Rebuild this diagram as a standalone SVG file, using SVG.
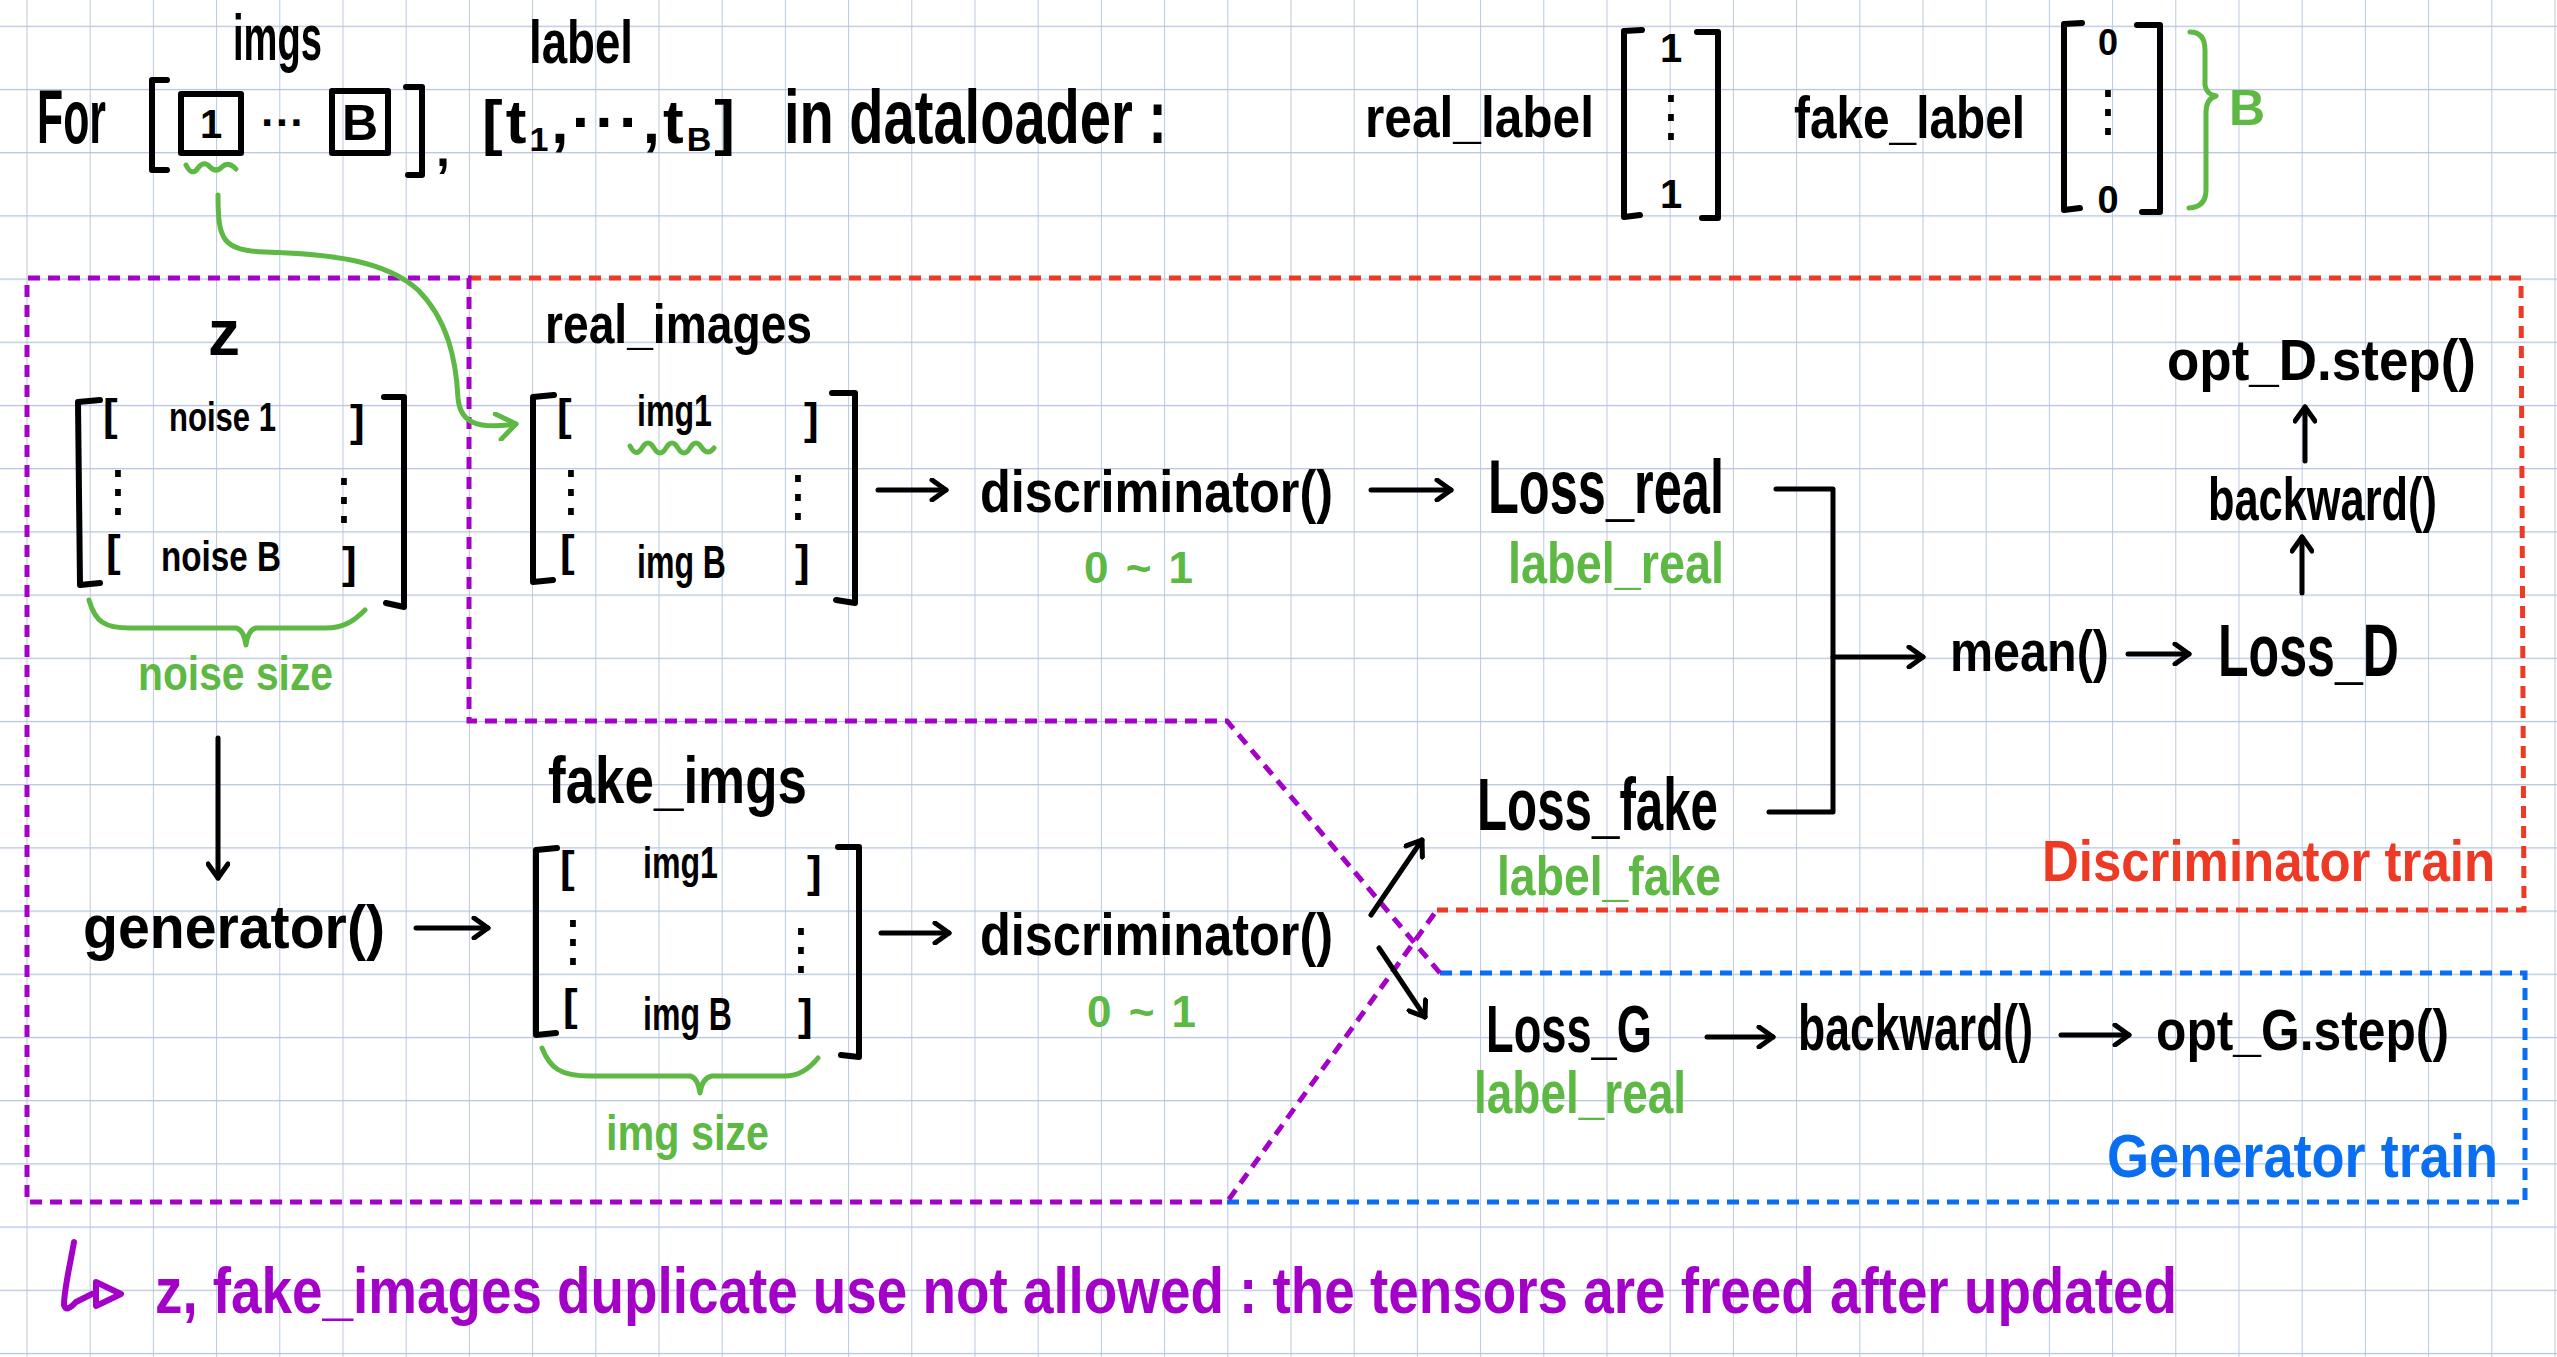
<svg xmlns="http://www.w3.org/2000/svg" width="2557" height="1357" viewBox="0 0 2557 1357">
<defs>
<pattern id="grid" x="26.5" y="25.7" width="63.2" height="63.2" patternUnits="userSpaceOnUse">
<path d="M0,0 H63.2" stroke="#b3c3dd" stroke-width="2.6" fill="none"/>
<path d="M0,0 V63.2" stroke="#b3c3dd" stroke-width="1.8" fill="none"/>
</pattern>
<marker id="ah" viewBox="0 0 24 24" refX="20" refY="12" markerWidth="24" markerHeight="24" markerUnits="userSpaceOnUse" orient="auto">
<path d="M6,2 L20,12 L6,22" fill="none" stroke="#000" stroke-width="5" stroke-linecap="round" stroke-linejoin="round"/>
</marker>
<marker id="ahg" viewBox="0 0 30 30" refX="25" refY="15" markerWidth="30" markerHeight="30" markerUnits="userSpaceOnUse" orient="auto">
<path d="M6,2 L25,15 L8,28" fill="none" stroke="#5db844" stroke-width="5" stroke-linecap="round" stroke-linejoin="round"/>
</marker>
</defs>
<style>
text{font-family:"Liberation Sans Narrow","Liberation Sans",Arial,sans-serif;font-weight:700;fill:#000}
.g{fill:#5db844}
.r{fill:#ee3a24}
.b{fill:#0a6ef0}
.p{fill:#a300c8}
.dots{font-family:"DejaVu Sans",sans-serif;font-weight:400}
.ln{fill:none;stroke:#000;stroke-width:5;stroke-linecap:round;stroke-linejoin:round}
.br{fill:none;stroke:#000;stroke-width:6;stroke-linecap:round;stroke-linejoin:round}
.gl{fill:none;stroke:#5db844;stroke-width:5;stroke-linecap:round;stroke-linejoin:round}
.dash{fill:none;stroke-width:5;stroke-dasharray:12 8}
</style>
<rect width="2557" height="1357" fill="#ffffff"/>
<rect width="2557" height="1357" fill="url(#grid)"/>

<g id="regions">
<path class="dash" stroke="#ee3a24" d="M469,278 L2521,278 L2524,910 L1437,910"/>
<path class="dash" stroke="#0a6ef0" d="M1440,973 L2525,973 L2525,1202 L1227,1202"/>
<path class="dash" stroke="#a300c8" d="M1440,973 L1227,721 L469,721 L469,278 L27,278 L27,1202 L1227,1202 L1437,910"/>
</g>

<g id="header">
<text x="37" y="143" font-size="76" textLength="69" lengthAdjust="spacingAndGlyphs">For</text>
<text x="233" y="60" font-size="64" textLength="89" lengthAdjust="spacingAndGlyphs">imgs</text>
<text x="529" y="63" font-size="62" textLength="104" lengthAdjust="spacingAndGlyphs">label</text>
<path class="br" d="M167,80 L152,80 L152,170 L167,170"/>
<rect x="181" y="94" width="60" height="59" class="br"/>
<text x="211" y="138" font-size="40" text-anchor="middle">1</text>
<text x="283" y="138" font-size="44" text-anchor="middle">···</text>
<rect x="332" y="91" width="56" height="62" class="br"/>
<text x="360" y="140" font-size="50" text-anchor="middle">B</text>
<path class="br" d="M406,87 L422,87 L422,175 L408,175"/>
<text x="436" y="166" font-size="50">,</text>
<path class="gl" d="M186,165 q6,12 12,3 q6,-8 12,-1 q6,6 12,0 q6,-6 14,2"/>
<text x="482" y="143" font-size="62" textLength="253" lengthAdjust="spacing">[t<tspan font-size="34" dy="8">1</tspan><tspan dy="-8">,···,t</tspan><tspan font-size="34" dy="8">B</tspan><tspan dy="-8">]</tspan></text>
<text x="784" y="143" font-size="76" textLength="383" lengthAdjust="spacingAndGlyphs">in dataloader :</text>
</g>

<g id="real_label">
<text x="1365" y="137" font-size="58" textLength="229" lengthAdjust="spacingAndGlyphs">real_label</text>
<path class="br" d="M1642,30 L1624,31 L1624,217 L1640,215"/>
<path class="br" d="M1697,32 L1718,32 L1718,218 L1702,218"/>
<text x="1671" y="62" font-size="40" text-anchor="middle">1</text>
<text class="dots" x="1671" y="135" font-size="56" text-anchor="middle">⋮</text>
<text x="1671" y="208" font-size="40" text-anchor="middle">1</text>
</g>

<g id="fake_label">
<text x="1794" y="138" font-size="60" textLength="231" lengthAdjust="spacingAndGlyphs">fake_label</text>
<path class="br" d="M2082,23 L2064,24 L2064,210 L2080,208"/>
<path class="br" d="M2137,25 L2160,25 L2160,212 L2142,212"/>
<text x="2108" y="55" font-size="36" text-anchor="middle">0</text>
<text class="dots" x="2108" y="130" font-size="56" text-anchor="middle">⋮</text>
<text x="2108" y="213" font-size="38" text-anchor="middle">0</text>
<path class="gl" d="M2190,32 Q2205,32 2205,50 L2205,85 Q2206,94 2216,96 Q2206,99 2206,112 L2206,190 Q2206,207 2189,208"/>
<text class="g" x="2229" y="125" font-size="50">B</text>
</g>

<g id="z">
<text x="224" y="355" font-size="64" text-anchor="middle">z</text>
<path class="br" d="M100,400 L78,402 L80,585 L100,583"/>
<path class="br" d="M384,397 L404,397 L404,607 L386,603"/>
<text x="103" y="430" font-size="44">[</text>
<text x="169" y="431" font-size="40" textLength="107" lengthAdjust="spacingAndGlyphs">noise 1</text>
<text x="350" y="436" font-size="44">]</text>
<text class="dots" x="118" y="510" font-size="56" text-anchor="middle">⋮</text>
<text class="dots" x="344" y="518" font-size="56" text-anchor="middle">⋮</text>
<text x="106" y="566" font-size="44">[</text>
<text x="161" y="571" font-size="42" textLength="120" lengthAdjust="spacingAndGlyphs">noise B</text>
<text x="342" y="578" font-size="44">]</text>
<path class="gl" d="M89,600 C95,622 105,628 130,628 L236,628 Q244,630 246,645 Q248,630 256,628 L325,628 C345,628 355,620 365,610"/>
<text class="g" x="138" y="690" font-size="48" textLength="195" lengthAdjust="spacingAndGlyphs">noise size</text>
</g>

<g id="real_images">
<text x="545" y="343" font-size="56" textLength="267" lengthAdjust="spacingAndGlyphs">real_images</text>
<path class="br" d="M554,395 L533,397 L533,582 L553,580"/>
<path class="br" d="M832,393 L855,393 L855,603 L836,600"/>
<text x="557" y="430" font-size="44">[</text>
<text x="637" y="426" font-size="44" textLength="75" lengthAdjust="spacingAndGlyphs">img1</text>
<path class="gl" d="M630,446 q6,12 12,2 q6,-10 12,0 q6,10 12,0 q6,-10 12,0 q6,10 12,0 q6,-10 12,0 q6,8 12,0"/>
<text x="804" y="434" font-size="44">]</text>
<text class="dots" x="571" y="510" font-size="56" text-anchor="middle">⋮</text>
<text class="dots" x="798" y="515" font-size="56" text-anchor="middle">⋮</text>
<text x="560" y="566" font-size="44">[</text>
<text x="637" y="578" font-size="46" textLength="89" lengthAdjust="spacingAndGlyphs">img B</text>
<text x="795" y="576" font-size="44">]</text>
</g>

<g id="disc_real">
<text x="980" y="512" font-size="60" textLength="353" lengthAdjust="spacingAndGlyphs">discriminator()</text>
<text class="g" x="1084" y="583" font-size="44" textLength="109" lengthAdjust="spacing">0~1</text>
</g>

<g id="loss_real">
<text x="1488" y="513" font-size="76" textLength="236" lengthAdjust="spacingAndGlyphs">Loss_real</text>
<text class="g" x="1508" y="583" font-size="58" textLength="216" lengthAdjust="spacingAndGlyphs">label_real</text>
</g>

<g id="mean">
<text x="1950" y="671" font-size="58" textLength="159" lengthAdjust="spacingAndGlyphs">mean()</text>
</g>
<g id="loss_d">
<text x="2218" y="676" font-size="74" textLength="181" lengthAdjust="spacingAndGlyphs">Loss_D</text>
</g>
<g id="backward_d">
<text x="2208" y="520" font-size="62" textLength="229" lengthAdjust="spacingAndGlyphs">backward()</text>
</g>
<g id="opt_d">
<text x="2167" y="380" font-size="58" textLength="309" lengthAdjust="spacingAndGlyphs">opt_D.step()</text>
</g>

<g id="generator">
<text x="83" y="948" font-size="62" textLength="302" lengthAdjust="spacingAndGlyphs">generator()</text>
</g>

<g id="fake_imgs">
<text x="548" y="803" font-size="66" textLength="259" lengthAdjust="spacingAndGlyphs">fake_imgs</text>
<path class="br" d="M557,848 L536,850 L536,1035 L556,1033"/>
<path class="br" d="M838,847 L859,847 L859,1057 L841,1055"/>
<text x="560" y="882" font-size="44">[</text>
<text x="643" y="878" font-size="44" textLength="75" lengthAdjust="spacingAndGlyphs">img1</text>
<text x="807" y="887" font-size="44">]</text>
<text class="dots" x="573" y="960" font-size="56" text-anchor="middle">⋮</text>
<text class="dots" x="801" y="968" font-size="56" text-anchor="middle">⋮</text>
<text x="563" y="1020" font-size="44">[</text>
<text x="643" y="1030" font-size="46" textLength="89" lengthAdjust="spacingAndGlyphs">img B</text>
<text x="798" y="1030" font-size="44">]</text>
<path class="gl" d="M542,1048 C550,1068 560,1076 590,1076 L690,1076 Q698,1078 700,1093 Q702,1078 712,1076 L785,1076 C800,1076 810,1068 818,1058"/>
<text class="g" x="606" y="1150" font-size="50" textLength="163" lengthAdjust="spacingAndGlyphs">img size</text>
</g>

<g id="disc_fake">
<text x="980" y="955" font-size="60" textLength="353" lengthAdjust="spacingAndGlyphs">discriminator()</text>
<text class="g" x="1087" y="1027" font-size="44" textLength="109" lengthAdjust="spacing">0~1</text>
</g>

<g id="loss_fake">
<text x="1477" y="830" font-size="74" textLength="241" lengthAdjust="spacingAndGlyphs">Loss_fake</text>
<text class="g" x="1497" y="895" font-size="56" textLength="224" lengthAdjust="spacingAndGlyphs">label_fake</text>
</g>

<g id="loss_g">
<text x="1486" y="1052" font-size="66" textLength="166" lengthAdjust="spacingAndGlyphs">Loss_G</text>
<text class="g" x="1474" y="1113" font-size="60" textLength="212" lengthAdjust="spacingAndGlyphs">label_real</text>
</g>
<g id="backward_g">
<text x="1798" y="1050" font-size="64" textLength="235" lengthAdjust="spacingAndGlyphs">backward()</text>
</g>
<g id="opt_g">
<text x="2156" y="1050" font-size="58" textLength="293" lengthAdjust="spacingAndGlyphs">opt_G.step()</text>
</g>

<g id="labels">
<text class="r" x="2042" y="881" font-size="58" textLength="453" lengthAdjust="spacingAndGlyphs">Discriminator train</text>
<text class="b" x="2107" y="1177" font-size="62" textLength="391" lengthAdjust="spacingAndGlyphs">Generator train</text>
</g>

<g id="note">
<path fill="none" stroke="#a300c8" stroke-width="6" stroke-linecap="round" stroke-linejoin="round" d="M74,1242 C70,1265 64,1290 64,1305 Q66,1313 76,1302 L92,1294"/>
<path fill="none" stroke="#a300c8" stroke-width="6" stroke-linejoin="round" d="M96,1282 L121,1294 L96,1306 Z"/>
<text class="p" x="155" y="1313" font-size="64" textLength="2022" lengthAdjust="spacingAndGlyphs">z, fake_images duplicate use not allowed : the tensors are freed after updated</text>
</g>

<g id="connectors">
<path class="gl" marker-end="url(#ahg)" d="M218,195 C218,240 222,250 265,252 C330,254 385,260 418,290 C448,320 456,360 458,398 C460,422 476,430 516,424"/>
<path class="ln" marker-end="url(#ah)" d="M878,490 L946,490"/>
<path class="ln" marker-end="url(#ah)" d="M1371,490 L1451,490"/>
<path class="ln" d="M1776,489 L1833,489 L1833,812 L1769,812"/>
<path class="ln" marker-end="url(#ah)" d="M1833,657 L1923,657"/>
<path class="ln" marker-end="url(#ah)" d="M2128,654 L2189,654"/>
<path class="ln" marker-end="url(#ah)" d="M2302,593 L2302,537"/>
<path class="ln" marker-end="url(#ah)" d="M2305,461 L2305,407"/>
<path class="ln" marker-end="url(#ah)" d="M218,738 L218,878"/>
<path class="ln" marker-end="url(#ah)" d="M416,928 L488,928"/>
<path class="ln" marker-end="url(#ah)" d="M881,933 L949,933"/>
<path class="ln" marker-end="url(#ah)" d="M1371,915 L1422,840"/>
<path class="ln" marker-end="url(#ah)" d="M1379,948 L1425,1017"/>
<path class="ln" marker-end="url(#ah)" d="M1707,1037 L1773,1037"/>
<path class="ln" marker-end="url(#ah)" d="M2061,1035 L2129,1035"/>
</g>
</svg>
